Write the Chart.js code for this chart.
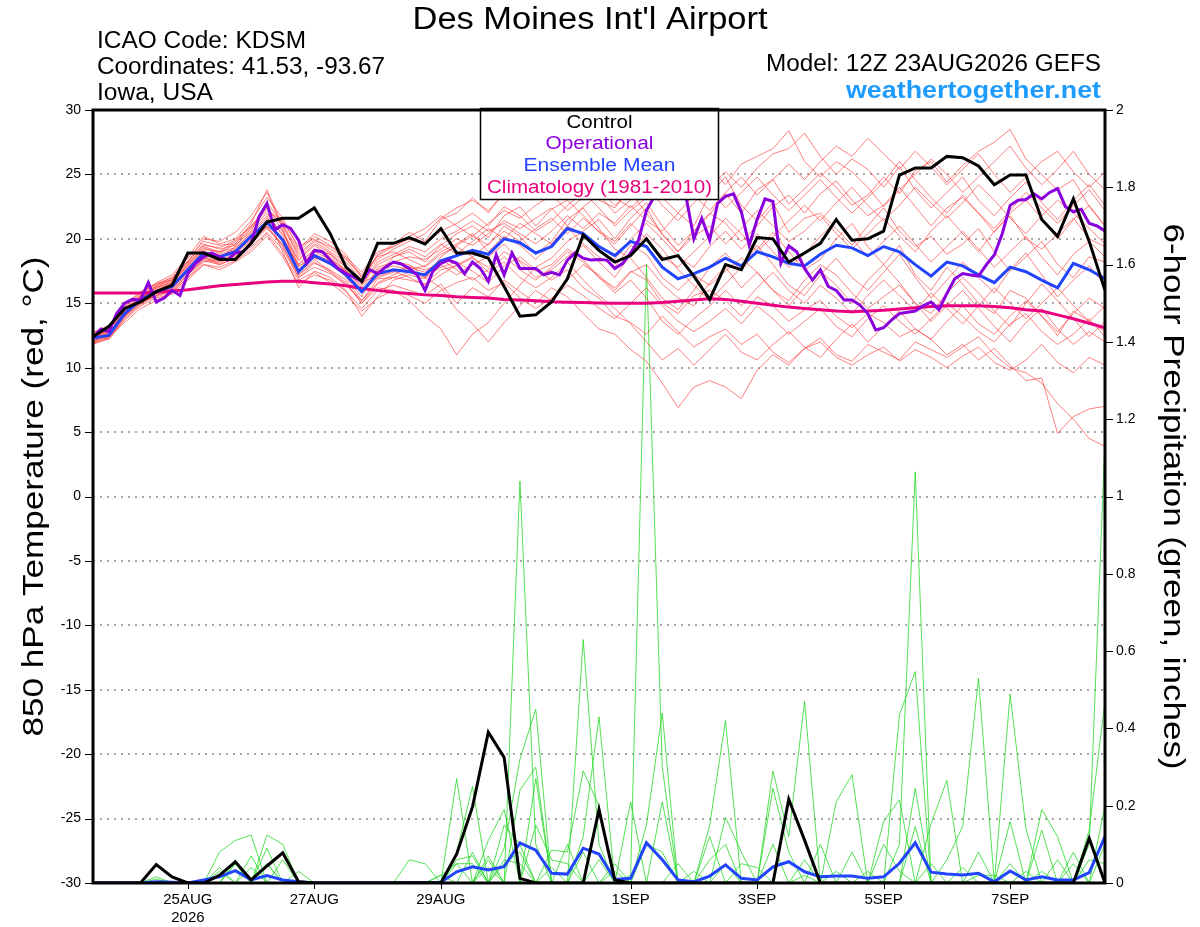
<!DOCTYPE html>
<html>
<head>
<meta charset="utf-8">
<title>Des Moines Int'l Airport - GEFS</title>
<script src="https://cdn.jsdelivr.net/npm/chart.js@4.4.1/dist/chart.umd.min.js"></script>
<style>
  html, body { margin: 0; padding: 0; background: #fff; }
  canvas { display: block; }
</style>
</head>
<body>
<canvas id="gefs" width="1200" height="927"></canvas>
<script>
const FONT = '"Liberation Sans", Arial, Helvetica, sans-serif';

// forecast hours (6-hourly ensemble, 3-hourly operational run)
const hours6 = Array.from({ length: 65 }, (_, i) => i * 6);
const hours3 = Array.from({ length: 129 }, (_, i) => i * 3);

const dateTickHours = [36, 84, 132, 204, 252, 300, 348];
const dateTickLabels = [['25AUG', '2026'], '27AUG', '29AUG', '1SEP', '3SEP', '5SEP', '7SEP'];

const controlTemp = [12.4,13.2,14.6,15.1,15.9,16.4,18.9,18.9,18.4,18.4, 19.65,21.3,21.6,21.6,22.4,20.4,17.8,16.7,19.65,19.65,
  20.1,19.6,20.8,18.9,18.9,18.5,16.3,14.0,14.1,15.1, 16.9,20.3,19.1,18.2,18.7,20.0,18.4,18.7,17.1,15.3,
  18.0,17.6,20.1,20.0,18.2,18.9,19.65,21.5,19.9,20.0, 20.6,24.95,25.5,25.5,26.4,26.3,25.65,24.2,24.95,24.95,
  21.5,20.2,23.1,19.8,16.0];

const operationalTemp = [12.35,13.0,12.8,14.2,15.0,15.3,15.25,16.6,15.1,15.4, 16.0,15.6,17.3,18.1,18.6,18.9,18.6,18.35,18.9,19.0,
  19.65,21.7,22.75,20.7,21.1,20.8,19.9,18.1,19.1,19.0, 18.35,17.7,17.3,17.05,16.7,17.6,17.3,17.8,18.2,18.05,
  17.7,17.2,16.0,17.5,18.1,18.35,18.1,17.3,18.2,17.7, 16.7,18.75,17.2,18.9,17.7,17.7,17.7,17.2,17.4,17.2,
  18.35,18.9,18.5,18.35,18.4,18.35,17.7,18.1,18.9,19.9, 22.2,23.3,24.0,24.6,24.2,23.3,20.0,21.6,19.9,22.75,
  23.3,23.5,22.1,19.5,21.5,23.1,22.9,18.1,19.45,19.0, 17.7,16.8,17.6,16.3,16.0,15.25,15.25,14.86,14.2,12.93,
  13.1,13.7,14.2,14.3,14.4,14.8,15.1,14.5,15.76,16.9, 17.3,17.2,17.1,18.0,18.75,20.4,22.6,23.0,23.05,23.5,
  23.1,23.6,23.9,22.5,22.1,22.3,21.2,21.0,20.6];

const meanTemp = [12.3,12.5,14.2,15.25,15.9,16.3,17.6,18.9,18.6,19.0, 20.2,21.3,19.9,17.45,18.7,18.1,17.2,15.9,17.3,17.6,
  17.45,17.2,18.3,18.7,19.1,18.8,20.0,19.7,18.9,19.4, 20.8,20.4,19.4,18.7,19.8,19.4,17.8,16.9,17.3,17.8,
  18.5,17.9,19.0,18.6,18.1,17.9,18.8,19.5,19.3,18.7, 19.4,19.0,18.0,17.1,18.2,17.9,17.2,16.6,17.8,17.45,
  16.8,16.2,18.1,17.6,16.9];

const climoTemp = [15.8,15.8,15.8,15.8,15.85,15.95,16.05,16.2,16.35,16.45, 16.55,16.65,16.7,16.7,16.6,16.5,16.35,16.15,16.0,15.85,
  15.75,15.65,15.6,15.5,15.45,15.4,15.3,15.25,15.2,15.12, 15.08,15.05,15.02,15.0,15.0,15.0,15.05,15.15,15.25,15.35,
  15.3,15.15,15.0,14.85,14.7,14.6,14.5,14.4,14.35,14.4, 14.45,14.55,14.65,14.75,14.8,14.8,14.8,14.75,14.65,14.5,
  14.4,14.1,13.8,13.45,13.1];

const controlPrecip = [0,0,0,0,0.048,0.016,0,0,0.02,0.055, 0.008,0.044,0.078,0.003,0,0,0,0,0,0,
  0,0,0,0.075,0.197,0.39,0.325,0.012,0,0, 0,0,0.19,0.008,0,0,0,0,0,0,
  0,0,0,0,0.217,0.111,0,0,0,0, 0,0,0,0,0,0,0,0,0,0,
  0,0,0,0.116,0];

const meanPrecip = [0,0,0,0,0.003,0.002,0,0.008,0.016,0.032, 0.008,0.019,0.008,0.003,0,0,0,0,0,0,
  0.001,0.001,0.002,0.029,0.042,0.034,0.042,0.104,0.085,0.025, 0.023,0.09,0.075,0.009,0.012,0.104,0.06,0.008,0.003,0.018,
  0.047,0.012,0.008,0.042,0.055,0.029,0.016,0.018,0.018,0.012, 0.016,0.051,0.104,0.028,0.023,0.021,0.025,0.003,0.031,0.008,
  0.016,0.008,0.008,0.027,0.12];

// 20 perturbed members, 850 hPa temperature (C)
const memberTemps = [
  [12.0,12.8,14.0,15.3,16.2,16.6,18.0,19.4,19.0,19.8, 21.0,22.5,20.6,18.0,19.2,18.8,17.5,16.4,18.0,18.6, 19.0,18.2,19.5,20.4,21.0,20.1,21.8,22.5,21.0,22.3, 23.0,21.8,20.5,19.6,21.0,22.4,20.3,19.0,20.6,21.9, 23.5,22.0,23.8,24.6,22.7,23.9,25.1,24.0,22.6,23.4, 24.8,23.5,25.3,26.0,24.4,25.7,26.8,27.5,28.5,26.2, 25.0,23.8,24.6,22.5,21.0],
  [12.5,12.2,13.8,14.9,15.6,16.0,17.2,18.3,18.0,18.5, 19.8,21.0,19.5,17.0,18.1,17.6,16.8,15.2,16.9,17.0, 16.8,16.5,17.6,17.9,18.5,17.8,19.0,18.3,17.5,18.0, 19.2,18.4,17.0,16.2,17.5,16.8,15.0,14.2,15.6,16.0, 15.2,14.0,15.5,14.8,13.6,14.5,15.2,14.0,13.1,14.2, 13.5,12.4,13.0,12.2,11.0,11.8,10.6,11.5,10.2,9.0, 9.2,4.9,6.2,6.8,7.0],
  [11.9,12.4,13.5,14.6,15.2,15.8,17.0,18.0,17.6,18.2, 19.0,20.2,18.6,16.5,17.2,16.8,15.9,14.6,16.0,16.4, 16.0,15.6,16.5,15.0,16.2,15.5,16.8,15.9,15.0,16.2, 15.5,14.2,13.0,12.6,11.4,10.5,8.8,6.9,8.5,9.0, 8.5,7.6,9.8,11.0,10.2,11.5,12.3,11.0,10.5,11.8, 11.2,10.6,12.0,11.4,10.8,11.6,12.4,11.0,10.0,9.6, 8.8,7.2,6.0,4.5,3.9],
  [12.6,13.2,14.8,15.8,16.5,17.0,18.5,19.8,19.5,19.6, 21.2,23.8,21.0,18.6,19.8,19.0,18.2,16.8,18.8,19.6, 20.5,19.8,21.5,22.0,23.2,22.0,23.8,24.6,25.5,24.8, 26.0,24.5,23.0,22.4,24.0,25.6,23.2,22.0,21.0,23.5, 24.8,22.6,21.4,22.8,20.5,21.6,22.0,20.8,19.5,21.0, 22.4,20.6,19.4,20.2,18.8,19.6,20.8,19.0,17.5,18.6, 19.8,18.0,17.0,18.6,18.2],
  [12.2,12.6,14.4,15.5,16.0,16.5,17.8,19.0,18.8,19.2, 20.5,21.8,19.0,16.2,17.5,17.0,16.0,14.0,15.5,16.8, 17.2,16.9,18.6,19.5,20.2,19.5,21.0,20.2,18.8,19.8, 21.5,22.4,20.8,19.2,18.5,17.0,15.4,14.5,16.0,17.8, 18.9,17.5,19.2,20.5,19.0,17.6,18.4,20.0,21.2,19.4, 18.0,19.5,17.2,16.0,17.8,16.5,15.0,14.2,16.0,15.4, 14.0,12.5,14.4,13.6,12.8],
  [12.4,12.9,14.6,15.0,15.7,16.2,17.4,18.6,18.3,18.9, 20.0,21.5,20.4,18.3,19.5,18.6,17.4,15.8,17.0,17.4, 17.9,17.6,18.0,17.2,18.0,18.6,19.6,18.2,17.0,17.6, 18.6,19.5,18.2,17.0,18.8,20.4,19.2,17.6,16.4,15.2, 16.5,17.8,19.5,18.0,16.4,15.6,17.2,18.5,17.0,16.0, 17.4,18.8,17.0,15.4,16.8,18.2,17.0,15.8,17.6,18.9, 17.2,15.5,16.8,17.9,16.4],
  [12.8,13.0,14.2,15.6,16.4,17.0,18.2,20.0,19.8,20.5, 21.8,23.6,20.8,17.2,18.4,17.5,16.6,15.0,16.2,16.0, 15.2,14.0,13.0,11.0,12.6,13.5,15.0,16.4,17.8,18.5, 19.8,20.6,21.5,20.0,21.6,22.8,21.0,19.5,20.6,22.0, 21.2,19.8,21.0,22.5,23.4,22.0,23.5,24.5,23.0,21.8, 22.6,24.0,22.5,21.0,22.4,23.2,22.0,20.5,22.0,23.0, 21.6,20.0,21.5,22.6,21.0],
  [11.8,12.3,13.9,15.0,15.8,16.1,17.3,18.5,18.2,18.7, 19.6,20.8,19.6,17.6,18.8,18.3,17.0,15.5,17.8,18.2, 18.0,17.0,16.2,14.5,13.4,12.0,13.5,14.8,16.0,15.2, 16.8,18.0,17.2,16.0,17.4,18.0,16.5,15.4,14.8,16.6, 17.8,16.2,17.4,16.0,14.8,16.2,17.5,16.4,15.0,16.8, 18.0,16.6,15.0,14.2,15.8,17.0,15.8,14.4,13.2,15.0, 16.5,15.2,13.8,12.4,13.6],
  [12.3,12.7,14.3,15.4,16.1,16.6,17.9,19.1,18.5,19.4, 20.8,22.0,20.2,17.8,19.0,18.4,17.6,16.2,17.6,18.2, 18.6,18.4,19.2,20.0,19.5,20.4,21.4,20.8,21.6,22.4, 21.0,22.5,23.4,22.0,23.0,24.2,22.6,21.4,22.8,24.0, 25.2,24.0,25.5,26.6,27.0,28.2,26.4,25.0,26.2,25.4, 24.0,25.6,23.8,22.4,23.6,24.8,23.0,21.8,23.2,24.4, 22.8,21.5,23.0,24.2,22.6],
  [12.1,12.5,14.1,15.1,15.9,16.4,17.5,18.8,18.7,19.1, 20.3,21.2,19.8,17.4,18.6,18.0,17.3,15.9,17.5,17.9, 17.6,17.9,19.0,19.6,20.4,19.0,20.2,19.5,18.4,19.6, 20.9,19.6,18.6,17.8,19.5,18.8,17.0,16.0,17.2,16.4, 17.5,18.5,17.4,16.0,15.2,16.8,18.0,17.2,15.8,14.6, 15.5,16.4,15.0,13.6,14.8,16.0,14.6,13.2,12.0,13.5, 14.6,13.0,11.8,12.8,12.0],
  [12.6,12.4,14.0,15.2,15.5,15.9,17.0,18.2,18.4,18.6, 19.4,20.5,19.2,17.0,17.8,17.3,16.5,15.0,16.5,17.0, 17.4,17.0,17.8,18.2,17.5,16.6,17.9,18.6,17.6,16.8, 17.6,16.2,15.4,14.0,13.5,12.6,14.0,12.8,11.6,12.4, 13.0,11.8,12.6,11.2,10.4,11.5,12.0,10.8,10.2,11.0, 11.6,10.5,11.4,10.8,10.0,10.9,11.6,10.4,9.8,10.6, 11.8,10.4,9.6,10.8,10.2],
  [12.0,12.6,14.5,15.6,16.3,16.9,18.2,19.6,19.2,19.5, 20.6,22.8,21.2,19.0,20.2,19.5,18.6,17.4,19.0,19.4, 20.0,19.6,20.6,21.2,22.0,21.0,22.5,21.8,20.6,21.4, 22.6,23.6,22.4,21.0,22.2,23.2,24.4,23.0,24.8,25.6, 24.2,25.8,26.4,27.0,28.4,26.0,24.8,26.0,25.2,24.0, 22.5,23.8,25.0,26.2,25.0,23.6,24.8,26.0,27.2,25.5, 24.2,25.4,26.8,25.0,23.8],
  [12.4,12.8,14.0,15.3,15.8,16.2,17.6,18.6,18.0,18.5, 19.7,21.0,20.0,18.0,19.2,18.8,17.8,16.6,17.2,18.6, 19.2,18.6,19.6,18.8,19.8,20.8,20.0,21.2,20.4,19.6, 21.0,20.2,19.0,18.4,20.0,21.2,20.0,18.6,17.8,19.4, 20.6,19.2,20.4,19.0,17.8,18.8,20.2,21.4,20.0,18.6, 19.8,21.0,19.6,18.2,19.4,20.6,19.2,17.8,19.0,20.2, 18.6,17.2,18.8,19.8,18.6],
  [12.2,12.9,14.4,15.1,15.9,16.4,17.7,18.9,18.6,19.1, 20.1,21.4,20.0,17.9,18.5,18.2,17.5,16.0,17.1,17.5, 17.0,16.4,17.2,18.0,18.6,17.4,18.2,17.0,16.2,17.0, 18.2,16.8,15.6,14.6,13.4,12.0,10.6,11.5,10.2,11.4, 12.6,11.2,10.6,11.8,12.8,11.6,10.8,12.2,13.4,12.0, 13.2,14.4,13.0,12.2,13.6,14.8,13.4,12.6,14.0,15.2, 14.0,12.8,14.2,15.4,14.6],
  [12.5,13.1,14.7,15.7,16.6,17.2,18.6,20.2,19.6,20.0, 21.4,23.2,21.6,19.2,20.4,19.8,18.8,17.0,18.4,19.2, 19.8,20.4,21.6,22.4,23.0,22.2,23.4,23.0,24.6,25.4, 24.0,25.2,23.8,22.6,23.6,22.0,20.4,19.0,20.2,21.0, 19.6,20.8,22.2,21.0,19.8,20.6,21.8,20.4,19.2,20.4, 21.6,20.2,19.0,20.6,21.8,20.4,19.0,20.6,21.8,20.0, 19.2,20.4,21.6,20.0,19.4],
  [12.3,12.6,14.2,15.4,16.2,16.7,18.0,19.2,19.0,19.3, 20.4,21.6,20.6,18.4,19.6,18.9,17.9,16.5,18.2,18.8, 19.4,19.0,20.0,20.6,21.4,20.6,21.2,20.4,19.6,20.6, 21.8,20.8,22.0,21.2,22.6,21.4,20.6,22.0,23.4,22.2, 23.6,24.8,23.4,24.6,25.8,24.6,26.0,27.2,26.4,27.8, 26.6,25.4,26.8,25.6,24.2,25.4,26.6,25.0,23.6,24.8, 26.0,26.8,25.2,24.0,25.2],
  [11.9,12.2,13.7,14.8,15.4,15.7,16.8,18.0,17.8,18.3, 19.2,20.4,18.8,16.8,17.4,16.6,15.6,14.4,15.4,16.0, 15.6,15.0,16.0,16.6,17.0,16.0,16.6,15.4,14.6,15.4, 16.4,15.6,14.6,13.8,15.0,16.2,14.8,13.6,12.8,13.6, 14.6,13.4,14.8,13.8,12.6,13.6,14.6,13.2,12.4,13.8, 14.8,13.6,12.6,13.8,15.0,14.0,12.8,12.0,13.4,14.2, 12.8,11.8,12.6,13.8,12.4],
  [12.7,13.3,14.9,15.9,16.5,16.8,18.3,19.5,19.3,19.9, 21.0,22.2,21.4,19.4,20.0,19.2,18.4,17.2,18.6,19.0, 18.4,17.8,18.8,19.4,18.6,19.6,20.6,19.8,20.8,21.6, 20.4,21.6,20.6,19.8,21.2,20.0,18.6,17.8,19.0,20.2, 21.6,20.4,19.0,20.2,21.4,22.6,21.4,22.8,24.0,22.6, 21.4,22.6,24.0,22.8,21.6,22.8,24.2,23.0,21.6,20.4, 21.8,23.0,22.0,20.8,19.6],
  [12.0,12.4,14.0,15.0,15.6,16.0,17.2,18.4,18.1,18.8, 19.9,20.9,19.4,17.2,18.2,17.4,16.4,15.2,16.6,17.2, 17.8,17.4,18.4,17.6,16.8,17.6,18.6,17.6,16.8,17.8, 19.0,18.2,17.0,15.8,16.8,15.4,13.6,12.6,13.8,14.8, 16.0,14.8,16.2,17.4,16.0,15.0,16.4,15.4,14.2,15.6, 16.8,15.6,14.4,15.8,14.6,13.4,14.8,16.2,15.0,13.8, 15.0,16.2,14.8,13.6,14.8],
  [12.4,13.0,14.6,15.5,16.3,16.8,18.1,19.3,18.9,19.6, 20.9,22.4,21.0,18.8,19.9,19.4,18.5,17.0,18.7,19.4, 20.2,20.8,21.8,21.0,20.2,21.2,22.2,21.6,22.6,23.4, 22.2,23.2,24.4,23.2,22.4,23.6,25.0,26.4,25.0,23.8, 22.4,23.6,24.8,23.4,22.2,23.4,24.6,23.2,22.0,23.2, 24.4,26.0,24.6,23.2,22.0,23.4,22.0,20.8,22.2,23.6, 22.4,21.2,22.6,23.8,22.2]
];

// 20 perturbed members, 6-hour precipitation (inches)
const memberPrecips = [
  [0,0,0,0,0,0,0,0,0,0, 0,0,0,0,0,0,0,0,0,0, 0,0,0,0,0,0,0,1.04,0.1,0, 0,0,0,0,0,0,0,0,0,0, 0,0,0,0.1,0,0,0,0,0,0, 0,0,0.146,0,0,0,0,0,0,0, 0,0,0,0,0.1],
  [0,0,0,0,0,0,0,0,0,0, 0,0,0,0,0,0,0,0,0,0, 0,0,0,0.05,0,0,0,0,0,0, 0,0,0,0,0.02,1.6,0.3,0,0,0, 0,0,0,0,0,0,0,0,0,0, 0,0,0,0,0,0,0,0,0,0, 0.137,0,0,0,0],
  [0,0,0,0,0,0,0,0,0,0.05, 0,0,0,0,0,0,0,0,0,0, 0,0,0,0,0,0,0,0,0,0, 0,0.08,0,0,0,0,0,0,0,0, 0,0,0,0,0,0,0,0,0,0, 0,0.1,1.064,0,0,0,0,0,0,0, 0,0,0,0,0.2],
  [0,0,0,0,0,0,0,0,0,0, 0,0.05,0,0,0,0,0,0,0,0, 0,0,0,0,0,0,0,0,0,0, 0,0.63,0.1,0,0,0,0,0,0,0, 0,0,0,0,0,0,0,0,0,0, 0,0,0,0,0,0,0,0,0,0, 0,0,0,0.1,1.15],
  [0,0,0,0,0,0,0,0,0,0, 0,0,0,0,0,0,0,0,0,0, 0,0,0,0.27,0,0,0.09,0.32,0.45,0, 0,0,0,0,0,0,0,0,0,0, 0,0,0,0,0,0.06,0,0,0,0, 0,0,0,0,0,0,0.08,0,0,0, 0,0,0,0,0],
  [0,0,0,0,0,0,0,0,0,0, 0,0,0,0,0,0,0,0,0,0, 0,0,0,0,0,0,0,0,0,0, 0,0.12,0.43,0,0,0.15,0.44,0,0,0, 0,0,0,0,0,0,0,0,0,0, 0,0,0,0,0,0,0,0,0.05,0, 0,0,0,0,0],
  [0,0,0,0,0,0,0,0,0.08,0.11, 0.124,0,0,0,0,0,0,0,0,0, 0,0,0,0.08,0.25,0,0,0,0,0, 0,0,0,0,0,0,0,0,0,0.15, 0.42,0,0,0,0,0,0,0,0,0, 0,0,0.245,0,0,0,0,0,0,0, 0,0,0,0,0],
  [0,0,0,0,0,0,0,0,0,0, 0,0.124,0.1,0,0,0,0,0,0,0, 0,0,0,0,0,0,0,0,0.27,0, 0,0,0,0,0,0,0,0,0,0, 0,0,0,0.29,0.12,0.47,0,0,0,0, 0,0,0,0,0,0,0,0,0,0, 0,0,0,0,0],
  [0,0,0,0,0,0,0,0,0,0, 0,0,0,0,0,0,0,0,0,0, 0,0,0,0,0,0.11,0.19,0,0,0, 0,0,0,0,0,0,0,0,0,0, 0,0,0,0,0,0,0,0.03,0,0, 0,0.435,0.547,0,0,0,0,0,0,0, 0,0,0.08,0,0],
  [0,0,0,0,0,0,0,0,0,0, 0.07,0,0,0,0,0,0,0,0,0, 0,0,0,0,0,0,0,0.24,0.3,0, 0,0,0,0,0,0,0,0,0,0, 0,0,0,0,0,0,0,0,0,0, 0,0,0,0,0.06,0.146,0.53,0,0,0, 0,0,0,0,0],
  [0,0,0,0,0,0,0,0,0.04,0, 0,0,0,0,0,0,0,0,0,0, 0,0,0,0,0,0,0,0,0,0, 0,0,0,0.05,0,0,0,0,0,0, 0,0,0,0,0,0,0,0.21,0.28,0, 0,0,0,0,0,0,0,0,0.489,0.14, 0,0,0,0,0],
  [0,0,0,0,0,0,0,0,0,0, 0,0,0,0,0,0,0,0,0,0, 0.06,0.05,0,0,0,0,0,0,0,0, 0,0,0,0,0,0,0.21,0,0,0.12, 0,0,0,0,0,0,0,0,0,0, 0,0,0,0,0,0,0,0,0,0, 0.19,0.12,0,0.137,0.47],
  [0,0,0,0,0,0,0,0,0,0.06, 0,0,0.06,0,0,0,0,0,0,0, 0,0,0,0,0,0,0,0,0,0.085, 0.08,0.29,0.2,0,0,0,0,0,0,0, 0,0,0,0.245,0.08,0,0,0,0,0, 0,0,0,0,0,0,0,0,0,0, 0,0,0,0,0],
  [0,0,0,0,0,0,0,0,0,0, 0,0.09,0,0,0,0,0,0,0,0, 0,0,0,0,0.08,0,0,0,0,0, 0,0,0,0,0,0.1,0.08,0,0,0, 0,0,0,0,0,0,0,0,0,0, 0.16,0.215,0,0.154,0.266,0,0,0,0,0, 0,0,0,0,0],
  [0,0,0,0,0.016,0,0,0,0,0, 0,0,0,0,0,0,0,0,0,0, 0,0,0,0,0,0,0.15,0.1,0,0, 0,0,0,0,0.21,0,0,0,0,0, 0.17,0.08,0,0,0,0,0,0,0,0, 0,0,0,0,0,0,0,0,0.159,0, 0,0,0,0,0],
  [0,0,0,0,0,0,0,0,0,0, 0.04,0,0,0,0,0,0,0,0,0, 0,0,0,0,0,0.07,0,0,0.15,0.06, 0.05,0,0,0,0,0,0,0,0,0, 0,0,0,0,0,0,0.1,0,0.08,0, 0,0,0,0,0,0,0,0,0,0, 0,0,0.05,0,0],
  [0,0,0,0,0.01,0,0,0,0,0, 0,0.05,0,0,0,0,0,0,0,0, 0,0,0,0.06,0.07,0,0.05,0.08,0,0, 0,0,0,0,0,0,0,0,0,0.06, 0.1,0,0,0,0,0,0,0,0,0, 0,0,0,0,0,0,0,0,0,0, 0,0.06,0,0,0],
  [0,0,0,0,0,0,0,0,0.03,0, 0,0,0,0.03,0,0,0,0,0,0, 0,0,0,0,0,0.06,0,0,0,0, 0.1,0,0.06,0,0,0,0,0.05,0,0, 0,0,0,0,0,0,0,0,0,0, 0.1,0.03,0,0,0,0.04,0,0,0,0, 0,0,0,0.06,0.05],
  [0,0,0,0,0,0,0,0,0,0, 0,0,0,0,0,0,0,0,0,0, 0,0,0.02,0.05,0.05,0,0.06,0.05,0,0, 0,0,0,0,0,0,0,0,0,0, 0,0.05,0.04,0,0,0,0,0,0,0.03, 0,0,0,0.05,0,0,0,0,0,0.03, 0,0,0,0,0],
  [0,0,0,0,0,0,0,0,0,0.05, 0,0,0,0,0,0,0,0,0,0, 0,0,0.02,0,0,0.04,0,0,0,0.04, 0,0,0,0.03,0,0,0,0,0.03,0, 0.05,0,0,0,0,0.02,0,0,0,0, 0,0,0,0,0,0,0.02,0.02,0,0, 0.03,0,0,0,0]
];

const legendEntries = [
  ['Control', '#000000'],
  ['Operational', '#8a00dd'],
  ['Ensemble Mean', '#2244ff'],
  ['Climatology (1981-2010)', '#e8007e']
];

function series(hours, values) {
  return values.map((v, i) => ({ x: hours[i], y: v }));
}

function line(label, data, color, width, axis) {
  return { label, data, borderColor: color, borderWidth: width, yAxisID: axis,
           pointRadius: 0, tension: 0, fill: false };
}

// first entries are drawn on top
const datasets = [
  line('Control', series(hours6, controlTemp), '#000000', 3, 'y'),
  line('Operational', series(hours3, operationalTemp), '#8a00dd', 3, 'y'),
  line('Ensemble Mean', series(hours6, meanTemp), '#2244ff', 3, 'y'),
  line('Climatology', series(hours6, climoTemp), '#e8007e', 3, 'y'),
  line('Control precip', series(hours6, controlPrecip), '#000000', 3, 'y2'),
  line('Mean precip', series(hours6, meanPrecip), '#2244ff', 3, 'y2')
];
memberTemps.forEach((m, k) => datasets.push(line('T member ' + (k + 1), series(hours6, m), 'rgba(255,40,40,0.65)', 0.9, 'y')));
memberPrecips.forEach((m, k) => datasets.push(line('P member ' + (k + 1), series(hours6, m), 'rgba(30,215,30,0.85)', 0.9, 'y2')));

function fitText(ctx, text, x, y, width, align) {
  const w = ctx.measureText(text).width;
  ctx.save();
  ctx.translate(x, y);
  ctx.scale(width / w, 1);
  ctx.textAlign = align;
  ctx.fillText(text, 0, 0);
  ctx.restore();
}

const decor = {
  id: 'decor',
  beforeDatasetsDraw(chart) {
    const { ctx, chartArea: a, scales: { y } } = chart;
    ctx.save();
    ctx.strokeStyle = '#a8a8a8';
    ctx.lineWidth = 2;
    ctx.setLineDash([2, 5]);
    y.ticks.forEach(t => {
      if (t.value <= y.min || t.value >= y.max) return;
      const py = Math.round(y.getPixelForValue(t.value));
      ctx.beginPath();
      ctx.moveTo(a.left, py);
      ctx.lineTo(a.right, py);
      ctx.stroke();
    });
    ctx.restore();
  },
  afterDatasetsDraw(chart) {
    const { ctx, chartArea: a, scales: { x, y, y2 } } = chart;
    ctx.save();
    // legend box
    const bw = 238, bh = 91;
    const bx = Math.round((a.left + a.right) / 2 - bw / 2) + 0.5;
    const by = a.top - 1.5;
    ctx.fillStyle = '#fff';
    ctx.fillRect(bx, by, bw, bh);
    ctx.strokeStyle = '#000';
    ctx.lineWidth = 1.5;
    ctx.strokeRect(bx, by, bw, bh);
    ctx.font = '18px ' + FONT;
    ctx.textBaseline = 'alphabetic';
    const widths = [66, 108, 152, 225];
    legendEntries.forEach(([txt, col], k) => {
      ctx.fillStyle = col;
      fitText(ctx, txt, bx + bw / 2, by + 19 + k * 21.7, widths[k], 'center');
    });

    // frame
    ctx.strokeStyle = '#000';
    ctx.lineWidth = 3;
    ctx.strokeRect(a.left, a.top, a.right - a.left, a.bottom - a.top);

    // tick marks
    ctx.lineWidth = 1;
    y.ticks.forEach(t => {
      const py = Math.round(y.getPixelForValue(t.value)) + 0.5;
      ctx.beginPath(); ctx.moveTo(a.left - 8, py); ctx.lineTo(a.left, py); ctx.stroke();
    });
    y2.ticks.forEach(t => {
      const py = Math.round(y2.getPixelForValue(t.value)) + 0.5;
      ctx.beginPath(); ctx.moveTo(a.right, py); ctx.lineTo(a.right + 8, py); ctx.stroke();
    });
    dateTickHours.forEach(h => {
      const px = Math.round(x.getPixelForValue(h)) + 0.5;
      ctx.beginPath(); ctx.moveTo(px, a.bottom); ctx.lineTo(px, a.bottom + 6); ctx.stroke();
    });
    ctx.restore();
  },
  afterDraw(chart) {
    const { ctx, chartArea: a } = chart;
    ctx.save();
    ctx.fillStyle = '#000';
    ctx.textBaseline = 'alphabetic';
    ctx.font = '31px ' + FONT;
    fitText(ctx, "Des Moines Int'l Airport", 590, 29, 355, 'center');

    ctx.font = '23px ' + FONT;
    fitText(ctx, 'ICAO Code: KDSM', 97, 48, 209, 'left');
    fitText(ctx, 'Coordinates: 41.53, -93.67', 97, 74, 288, 'left');
    fitText(ctx, 'Iowa, USA', 97, 100, 116, 'left');
    fitText(ctx, 'Model: 12Z 23AUG2026 GEFS', 1101, 71, 335, 'right');
    ctx.fillStyle = '#1e9bff';
    ctx.font = 'bold 23px ' + FONT;
    fitText(ctx, 'weathertogether.net', 1101, 98, 255, 'right');

    // axis titles
    const midY = (a.top + a.bottom) / 2;
    ctx.fillStyle = '#000';
    ctx.font = '29px ' + FONT;
    ctx.save();
    ctx.translate(43, midY);
    ctx.rotate(-Math.PI / 2);
    fitText(ctx, '850 hPa Temperature (red, \u00B0C)', 0, 0, 480, 'center');
    ctx.restore();
    ctx.save();
    ctx.translate(1164, midY);
    ctx.rotate(Math.PI / 2);
    fitText(ctx, '6-hour Precipitation (green, inches)', 0, 0, 546, 'center');
    ctx.restore();
    ctx.restore();
  }
};

const tickFont = { family: FONT, size: 14 };

new Chart(document.getElementById('gefs'), {
  type: 'line',
  data: { datasets },
  options: {
    responsive: false,
    animation: false,
    devicePixelRatio: 1,
    layout: { padding: { top: 110, left: 0, right: 0, bottom: 0 } },
    plugins: { legend: { display: false }, tooltip: { enabled: false }, title: { display: false } },
    scales: {
      x: {
        type: 'linear', min: 0, max: 384,
        grid: { display: false, drawTicks: false },
        border: { display: false },
        afterBuildTicks: s => { s.ticks = dateTickHours.map(v => ({ value: v })); },
        afterFit: s => { s.height = 44; },
        ticks: {
          autoSkip: false, maxRotation: 0, padding: 8, color: '#000',
          font: { family: FONT, size: 15 },
          callback: v => dateTickLabels[dateTickHours.indexOf(v)]
        }
      },
      y: {
        position: 'left', min: -30, max: 30,
        grid: { display: false, drawTicks: false },
        border: { display: false },
        afterFit: s => { s.width = 93; },
        ticks: { stepSize: 5, padding: 12, color: '#000', font: tickFont }
      },
      y2: {
        position: 'right', min: 0, max: 2,
        grid: { display: false, drawTicks: false },
        border: { display: false },
        afterFit: s => { s.width = 95; },
        ticks: { stepSize: 0.2, padding: 11, color: '#000', font: tickFont,
                 callback: v => String(+v.toFixed(1)) }
      }
    }
  },
  plugins: [decor]
});
</script>
</body>
</html>
